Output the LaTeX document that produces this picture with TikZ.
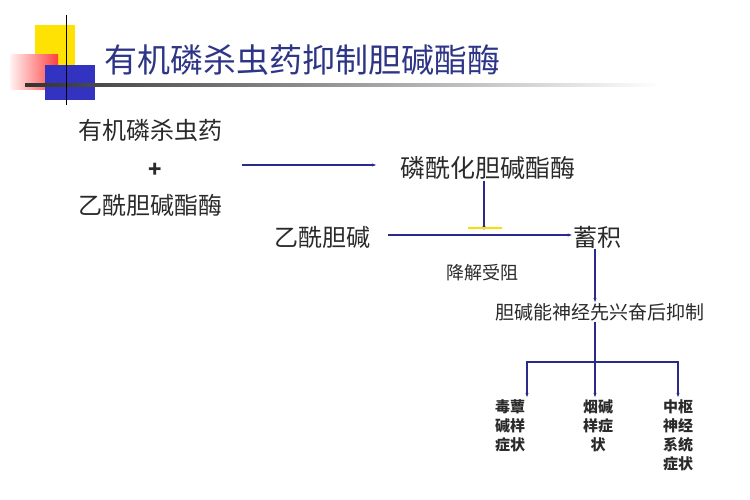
\documentclass[tikz,border=0pt]{standalone}
\usepackage{fontspec}
\setmainfont{Noto Sans CJK SC}
\usetikzlibrary{arrows.meta}
\definecolor{ln}{HTML}{2A2A8C}
\definecolor{tt}{HTML}{2E3586}
\definecolor{txt}{HTML}{2A2A2A}
\tikzset{
  lbl/.style={text=txt,inner sep=1pt,font=\fontsize{24}{28}\selectfont},
  sm/.style={text=txt,inner sep=1pt,align=center,font=\fontsize{15}{19}\selectfont\bfseries},
  conn/.style={draw=ln,line width=1.2pt,-{Stealth[length=4pt,width=3pt]}},
  bar/.style={draw=ln,line width=1.2pt}
}
\begin{document}
\begin{tikzpicture}[x=1pt,y=-1pt]
\useasboundingbox (0,0) rectangle (750,500);
\fill[white] (0,0) rectangle (750,500);
% decorations
\fill[yellow!85!orange] (35,25) rectangle (75,65);
\shade[left color=red!5,right color=red!75] (10,55) rectangle (58,90);
\fill[blue!70!black!80] (45,65) rectangle (95,100);
\shade[left color=black!80,right color=white] (25,84) rectangle (660,86.5);
\draw[black,line width=1pt] (66,15) -- (66,105);
\node[text=tt,anchor=west,inner sep=0pt,font=\fontsize{33}{36}\selectfont] (title) at (104,60) {有机磷杀虫药抑制胆碱酯酶};
% main
\node[lbl] (op) at (150,130) {有机磷杀虫药};
\node[lbl,font=\fontsize{22}{24}\selectfont\bfseries] (plus) at (155,170) {+};
\node[lbl] (ache) at (150,205) {乙酰胆碱酯酶};
\node[lbl,font=\fontsize{25}{28}\selectfont] (p) at (488,168) {磷酰化胆碱酯酶};
\coordinate (a1) at (242,165);
\draw[conn] (a1) -- (a1 -| 376,0);
\coordinate (blk) at (484,228);
\draw[conn] (p.south -| blk) -- ([yshift=-2pt]blk);
\draw[yellow!80!orange,line width=1.6pt] (468,228) -- (502,228);
\node[lbl] (ach) at (322,237) {乙酰胆碱};
\node[lbl] (acc) at (597,237) {蓄积};
\coordinate (a2) at (388,235);
\draw[conn] (a2) -- (a2 -| acc.west);
\node[lbl,font=\fontsize{18}{20}\selectfont] (deg) at (482,273) {降解受阻};
\node[lbl,font=\fontsize{19}{22}\selectfont] (ex) at (600,312) {胆碱能神经先兴奋后抑制};
\draw[conn] (acc.south -| 595,0) -- (ex.north -| 595,0);
\coordinate (j) at (595,362);
\draw[bar] (ex.south -| j) -- (j);
\draw[bar] (527,362) -- (678,362);
\node[sm,anchor=north] (m) at (510,398) {毒蕈\\碱样\\症状};
\node[sm,anchor=north] (n) at (598,398) {烟碱\\样症\\状};
\node[sm,anchor=north] (c) at (678,398) {中枢\\神经\\系统\\症状};
\draw[conn] (527,361.4) -- (527,397);
\draw[conn] (j) -- (595,397);
\draw[conn] (678,361.4) -- (678,397);
\end{tikzpicture}
\end{document}
